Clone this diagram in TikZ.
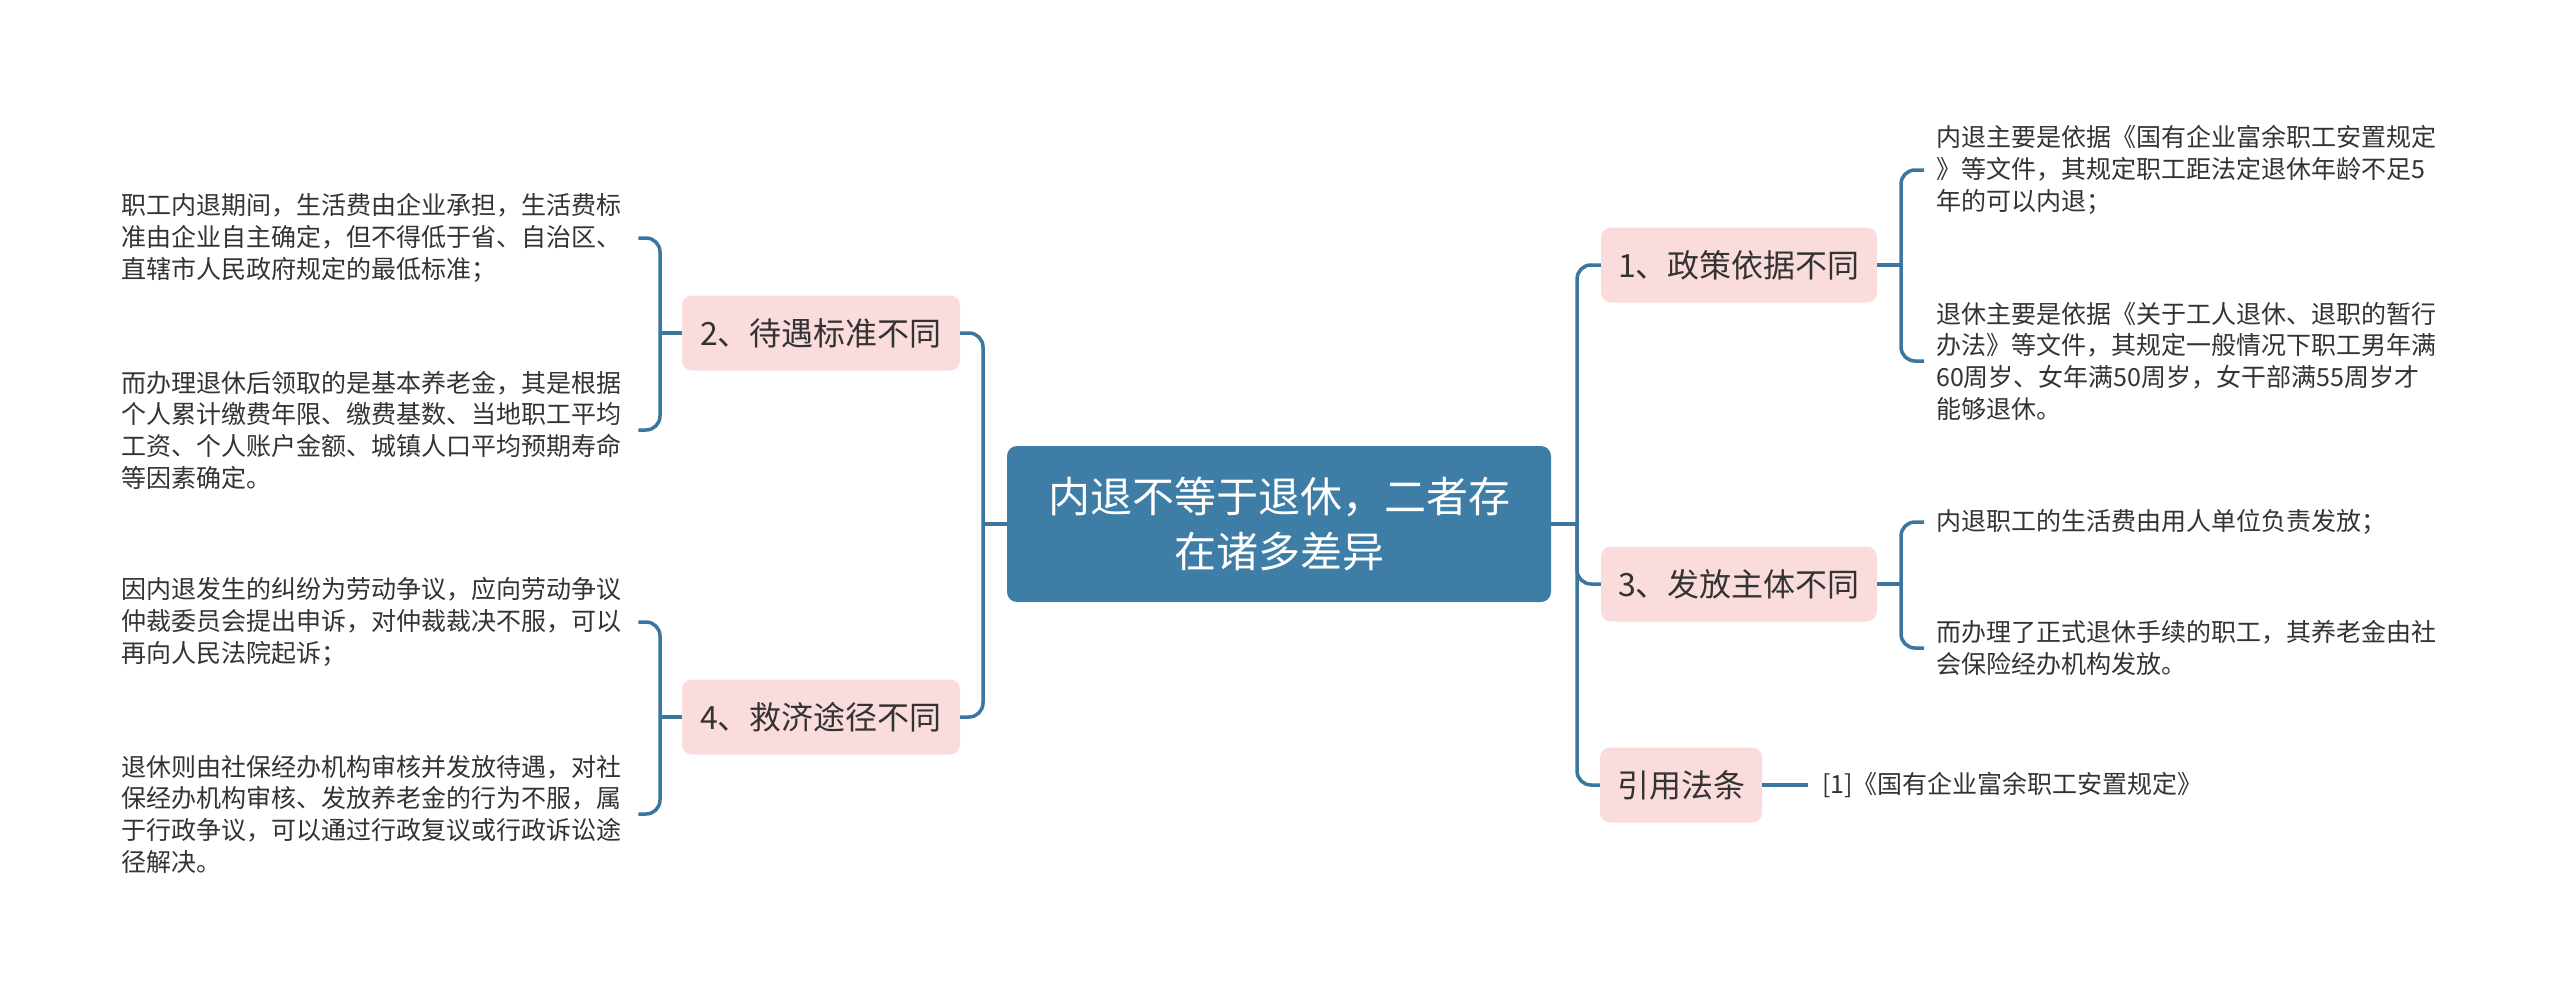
\documentclass[tikz,border=0pt]{standalone}
\usepackage{fontspec}
\setmainfont{Noto Sans CJK SC}
\definecolor{cblue}{RGB}{62,125,165}
\definecolor{lblue}{RGB}{58,118,160}
\definecolor{cpink}{RGB}{251,220,220}
\definecolor{ctext}{RGB}{51,51,51}
\tikzset{
  conn/.style={draw=lblue, line width=3.5pt, rounded corners=14pt},
  root/.style={fill=cblue, rounded corners=10pt, text=white, font=\fontsize{42}{55}\selectfont, align=center, minimum width=544pt, minimum height=156pt, inner sep=0pt},
  topic/.style={fill=cpink, rounded corners=10pt, text=ctext, font=\fontsize{32}{40}\selectfont, minimum height=75pt, inner xsep=17pt},
  leaf/.style={text=ctext, font=\fontsize{25}{31.7}\selectfont, align=left, text width=505pt, inner xsep=12pt, inner ysep=0pt, anchor=west},
  refleaf/.style={text=ctext, font=\fontsize{25}{31.7}\selectfont, inner xsep=14pt, inner ysep=0pt, anchor=west},
}
\begin{document}
\begin{tikzpicture}[x=1pt,y=-1pt]
\useasboundingbox (0,0) rectangle (2560,998);
% root
\node[root] (c) at (1279,524) {内退不等于退休，二者存\\在诸多差异};
% topics
\node[topic, minimum width=278pt] (n2) at (821,333) {2、待遇标准不同};
\node[topic, minimum width=278pt] (n4) at (821,717) {4、救济途径不同};
\node[topic, minimum width=276pt] (n1) at (1739,265) {1、政策依据不同};
\node[topic, minimum width=276pt] (n3) at (1739,584) {3、发放主体不同};
\node[topic, minimum width=160pt] (nr) at (1681,785) {引用法条};
% leaves left
\node[leaf] (l21) at (109,238) {职工内退期间，生活费由企业承担，生活费标\\准由企业自主确定，但不得低于省、自治区、\\直辖市人民政府规定的最低标准；};
\node[leaf] (l22) at (109,430) {而办理退休后领取的是基本养老金，其是根据\\个人累计缴费年限、缴费基数、当地职工平均\\工资、个人账户金额、城镇人口平均预期寿命\\等因素确定。};
\node[leaf] (l41) at (109,622) {因内退发生的纠纷为劳动争议，应向劳动争议\\仲裁委员会提出申诉，对仲裁裁决不服，可以\\再向人民法院起诉；};
\node[leaf] (l42) at (109,814) {退休则由社保经办机构审核并发放待遇，对社\\保经办机构审核、发放养老金的行为不服，属\\于行政争议，可以通过行政复议或行政诉讼途\\径解决。};
% leaves right
\node[leaf] (r11) at (1924,170) {内退主要是依据《国有企业富余职工安置规定\\》等文件，其规定职工距法定退休年龄不足5\\年的可以内退；};
\node[leaf] (r12) at (1924,361) {退休主要是依据《关于工人退休、退职的暂行\\办法》等文件，其规定一般情况下职工男年满\\60周岁、女年满50周岁，女干部满55周岁才\\能够退休。};
\node[leaf] (r31) at (1924,522) {内退职工的生活费由用人单位负责发放；};
\node[leaf] (r32) at (1924,648) {而办理了正式退休手续的职工，其养老金由社\\会保险经办机构发放。};
\node[refleaf] (rr) at (1808,785) {[1]《国有企业富余职工安置规定》};
% junctions
\coordinate (jl) at (983,524);
\coordinate (jr) at (1577,524);
\coordinate (j2) at (660,333);
\coordinate (j4) at (660,717);
\coordinate (j1) at (1901,265);
\coordinate (j3) at (1901,584);
% connectors
\draw[conn] (c.west) -- (jl);
\draw[conn] (jl) |- (n2.east);
\draw[conn] (jl) |- (n4.east);
\draw[conn] (c.east) -- (jr);
\draw[conn] (jr) |- (n1.west);
\draw[conn] (jr) |- (n3.west);
\draw[conn] (jr) |- (nr.west);
\draw[conn] (n2.west) -- (j2);
\draw[conn] (j2) |- (l21.east);
\draw[conn] (j2) |- (l22.east);
\draw[conn] (n4.west) -- (j4);
\draw[conn] (j4) |- (l41.east);
\draw[conn] (j4) |- (l42.east);
\draw[conn] (n1.east) -- (j1);
\draw[conn] (j1) |- (r11.west);
\draw[conn] (j1) |- (r12.west);
\draw[conn] (n3.east) -- (j3);
\draw[conn] (j3) |- (r31.west);
\draw[conn] (j3) |- (r32.west);
\draw[conn] (nr.east) -- (rr.west);
\end{tikzpicture}
\end{document}
